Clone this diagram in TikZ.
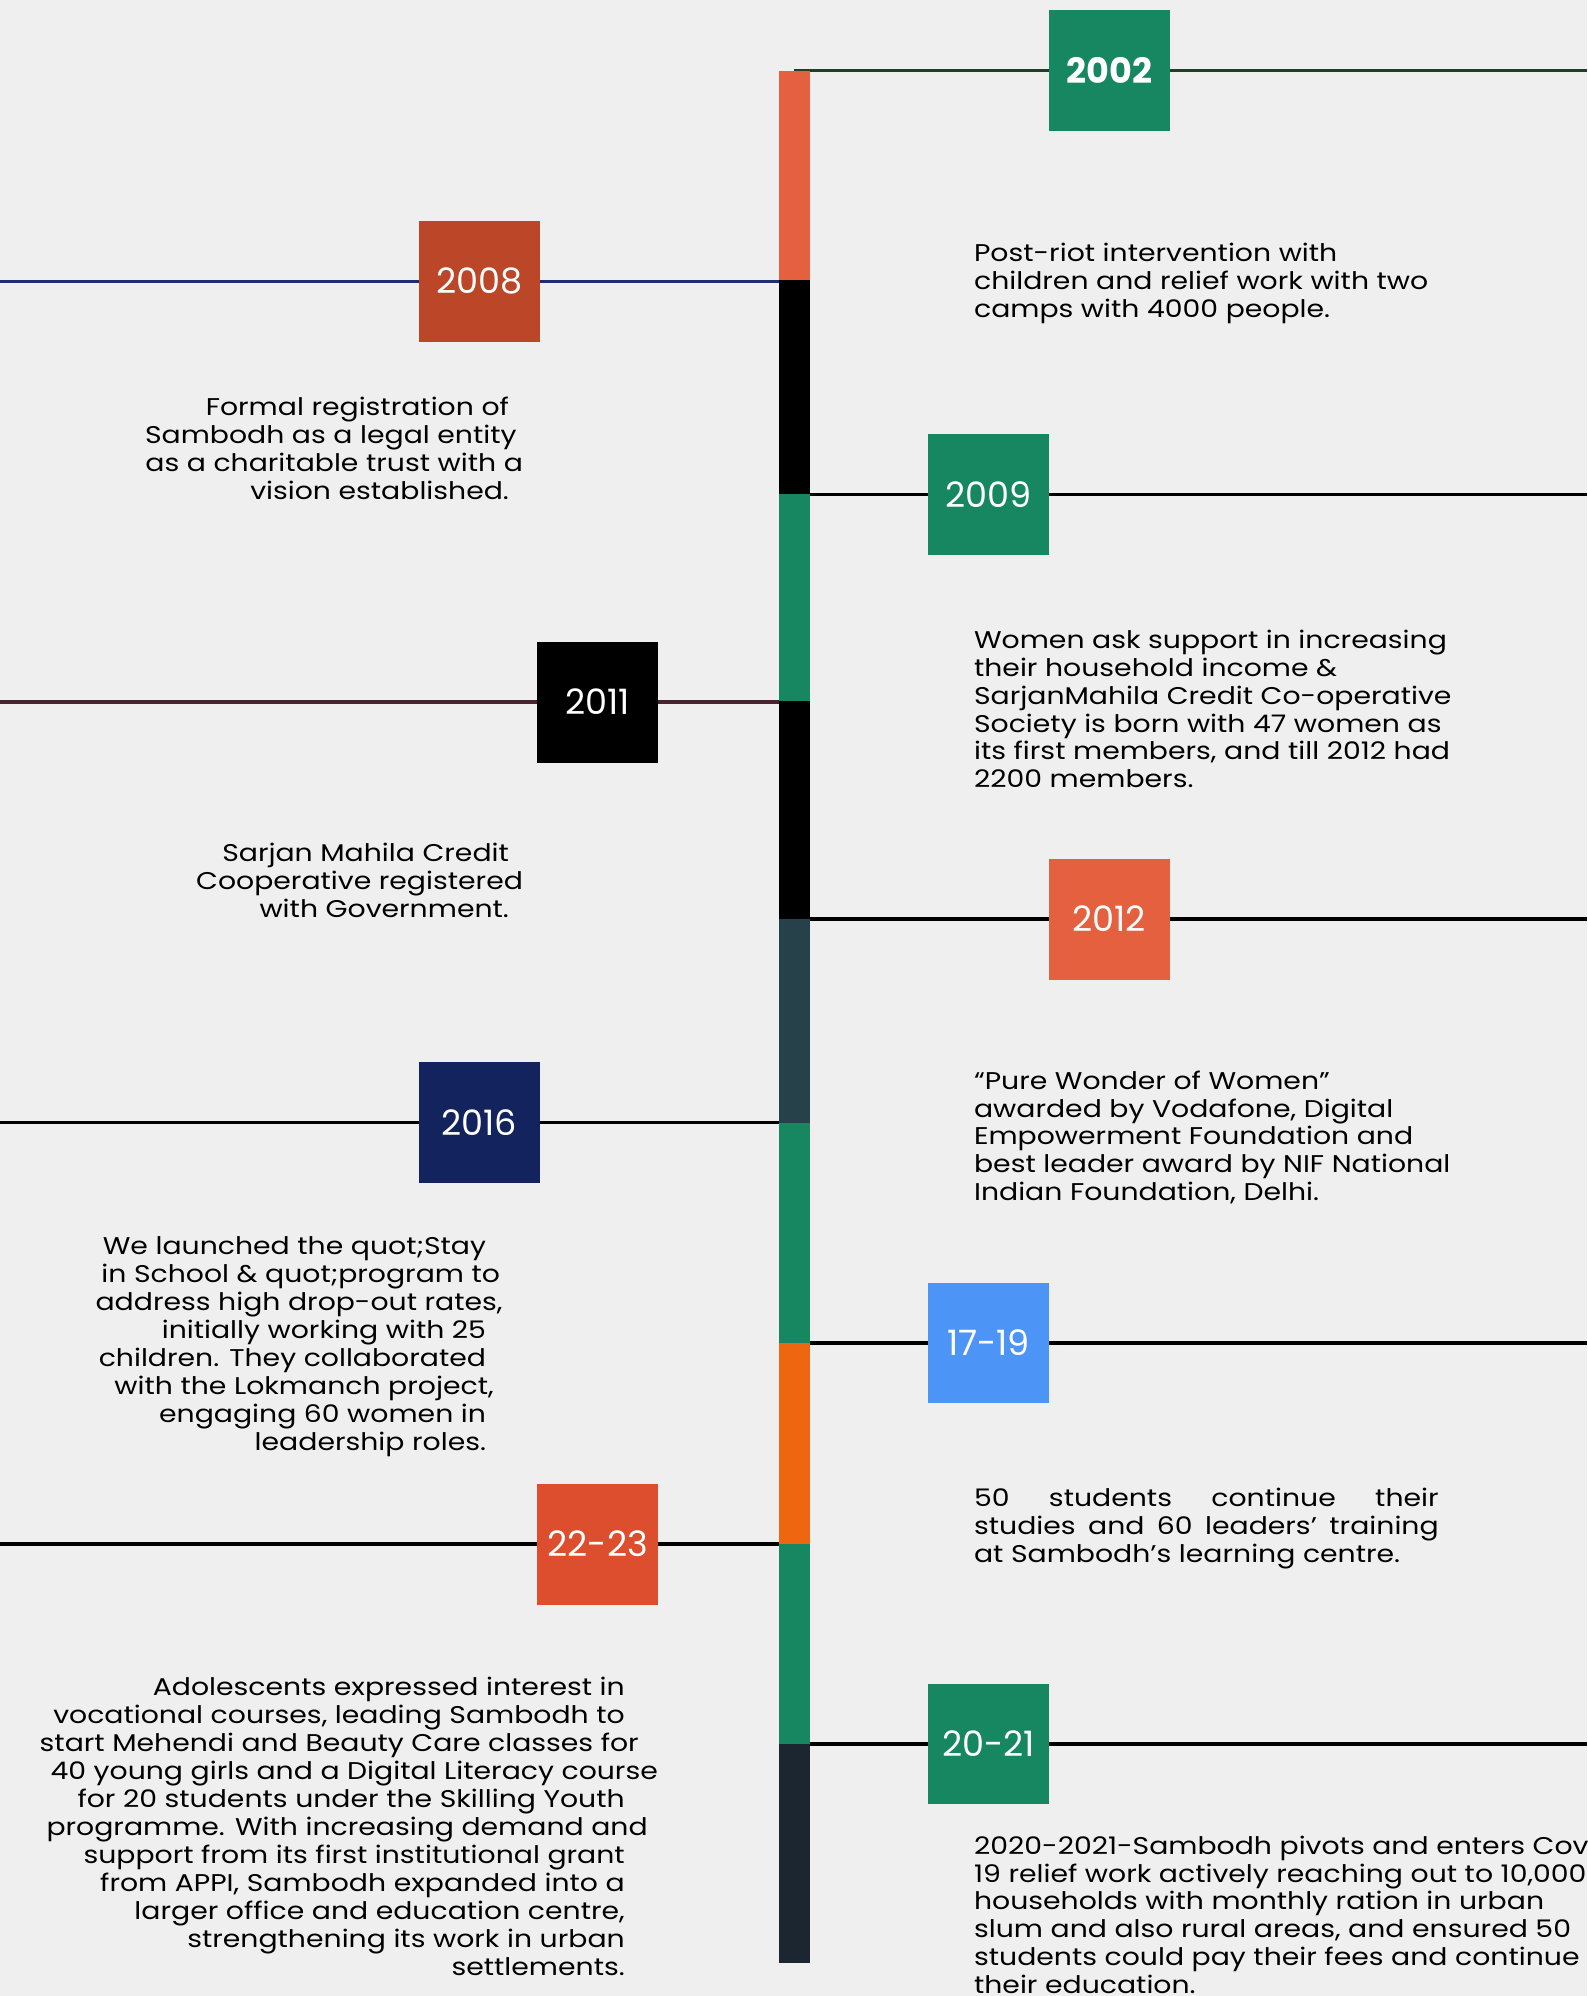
\documentclass[tikz,border=0pt]{standalone}
\usepackage{fontspec}
\setmainfont{Poppins}
\newfontfamily\widefont[FakeStretch=1.17]{Poppins}
\usetikzlibrary{positioning}

\definecolor{paper}{HTML}{EFEFEF}
\definecolor{leaf}{HTML}{168760}
\definecolor{tomato}{HTML}{E5603F}
\definecolor{rust}{HTML}{BC4628}
\definecolor{navy}{HTML}{13235E}
\definecolor{sky}{HTML}{4D94F7}
\definecolor{vermilion}{HTML}{DC4E2E}
\definecolor{pumpkin}{HTML}{EE6610}
\definecolor{slate}{HTML}{27414B}
\definecolor{ink}{HTML}{1B2631}
\definecolor{pine}{HTML}{1F3D27}
\definecolor{indigo}{HTML}{1F2E6E}
\definecolor{plum}{HTML}{4A2333}
\hbadness=10000
% a line that runs past the right edge of a right-aligned note
\newcommand{\overhang}[1]{\kern-#1pt\hbox{}}

\begin{document}
\begin{tikzpicture}[x=1pt,y=-1pt]
  \tikzset{yearbox/.style={minimum width=95pt,minimum height=95pt,inner sep=0pt,
      text=white,font=\fontsize{27.5}{30}\selectfont}}
  \tikzset{rightnote/.style={anchor=north west,inner sep=0pt,align=left,
      font=\widefont\fontsize{19}{21.8}\selectfont}}
  \tikzset{leftnote/.style={anchor=north east,inner sep=0pt,align=right,
      font=\widefont\fontsize{19}{22}\selectfont}}
  \tikzset{stem/.style={line width=2.7pt}}

  \fill[paper] (0,0) rectangle (1247,1568);
  \useasboundingbox (0,0) rectangle (1247,1568);

  % year boxes
  \node[yearbox,fill=leaf,font=\fontsize{27.5}{30}\selectfont\bfseries] (y02) at (871.5,55.5) {2002};
  \node[yearbox,fill=rust] (y08) at (376.5,221) {2008};
  \node[yearbox,fill=leaf] (y09) at (776.5,388.5) {2009};
  \node[yearbox,fill=black] (y11) at (469.5,551.5) {2011};
  \node[yearbox,fill=tomato] (y12) at (871.5,722) {2012};
  \node[yearbox,fill=navy] (y16) at (376.5,882) {2016};
  \node[yearbox,fill=sky] (y17) at (776.5,1055) {17-19};
  \node[yearbox,fill=vermilion] (y22) at (469.5,1213) {22-23};
  \node[yearbox,fill=leaf] (y20) at (776.5,1370) {20-21};

  % ends of the stems
  \coordinate (axis) at (624,0);
  \coordinate (west) at (0,0);
  \coordinate (east) at (1247,0);

  \draw[stem,pine] (axis |- y02) -- (y02.west);
  \draw[stem,pine] (y02.east) -- (east |- y02);
  \draw[stem,indigo] (west |- y08) -- (y08.west);
  \draw[stem,indigo] (y08.east) -- (axis |- y08);
  \draw[stem] (axis |- y09) -- (y09.west);
  \draw[stem] (y09.east) -- (east |- y09);
  \draw[stem,plum] (west |- y11) -- (y11.west);
  \draw[stem,plum] (y11.east) -- (axis |- y11);
  \draw[stem] (axis |- y12) -- (y12.west);
  \draw[stem] (y12.east) -- (east |- y12);
  \draw[stem] (west |- y16) -- (y16.west);
  \draw[stem] (y16.east) -- (axis |- y16);
  \draw[stem] (axis |- y17) -- (y17.west);
  \draw[stem] (y17.east) -- (east |- y17);
  \draw[stem] (west |- y22) -- (y22.west);
  \draw[stem] (y22.east) -- (axis |- y22);
  \draw[stem] (axis |- y20) -- (y20.west);
  \draw[stem] (y20.east) -- (east |- y20);

  % the spine
  \fill[tomato] (612,56) rectangle (636,220);
  \fill[black] (612,220) rectangle (636,388);
  \fill[leaf] (612,388) rectangle (636,551);
  \fill[black] (612,551) rectangle (636,722);
  \fill[slate] (612,722) rectangle (636,882);
  \fill[leaf] (612,882) rectangle (636,1055);
  \fill[pumpkin] (612,1055) rectangle (636,1213);
  \fill[leaf] (612,1213) rectangle (636,1370);
  \fill[ink] (612,1370) rectangle (636,1542);

  % notes on the right
  \node[rightnote] (n02) at (765,191) {Post-riot intervention with\\
    children and relief work with two\\ camps with 4000 people.};
  \node[rightnote] (n09) at (765,495) {Women ask support in increasing\\
    their household income \&\\ SarjanMahila Credit Co-operative\\
    Society is born with 47 women as\\ its first members, and till 2012 had\\
    2200 members.};
  \node[rightnote] (n12) at (765,841) {“Pure Wonder of Women”\\
    awarded by Vodafone, Digital\\ Empowerment Foundation and\\
    best leader award by NIF National\\ Indian Foundation, Delhi.};
  \node[rightnote,align=justify,text width=365pt] (n17) at (765,1169) {50 students continue their\linebreak
    studies and 60 leaders’ training\linebreak at Sambodh’s learning centre.};
  \node[rightnote] (n20) at (765,1442) {2020-2021-Sambodh pivots and enters Covid-\\
    19 relief work actively reaching out to 10,000\\ households with monthly ration in urban\\
    slum and also rural areas, and ensured 50\\ students could pay their fees and continue\\
    their education.};

  % notes on the left
  \node[leftnote] (n08) at (400,312) {Formal registration of\\
    Sambodh as a legal entity\overhang{6}\\ as a charitable trust with a\overhang{11}\\
    vision established.};
  \node[leftnote] (n11) at (400,662) {Sarjan Mahila Credit\\
    Cooperative registered\overhang{11}\\ with Government.};
  \node[leftnote] (n16) at (382,971) {We launched the quot;Stay\\
    in School \& quot;program to\overhang{11}\\ address high drop-out rates,\overhang{13}\\
    initially working with 25\\ children. They collaborated\\
    with the Lokmanch project,\overhang{6}\\ engaging 60 women in\\ leadership roles.};
  \node[leftnote] (n22) at (491,1317) {Adolescents expressed interest in\\
    vocational courses, leading Sambodh to\\ start Mehendi and Beauty Care classes for\overhang{11}\\
    40 young girls and a Digital Literacy course\overhang{26}\\ for 20 students under the Skilling Youth\\
    programme. With increasing demand and\overhang{18}\\ support from its first institutional grant\\
    from APPI, Sambodh expanded into a\\ larger office and education centre,\\
    strengthening its work in urban\\ settlements.};
\end{tikzpicture}
\end{document}
